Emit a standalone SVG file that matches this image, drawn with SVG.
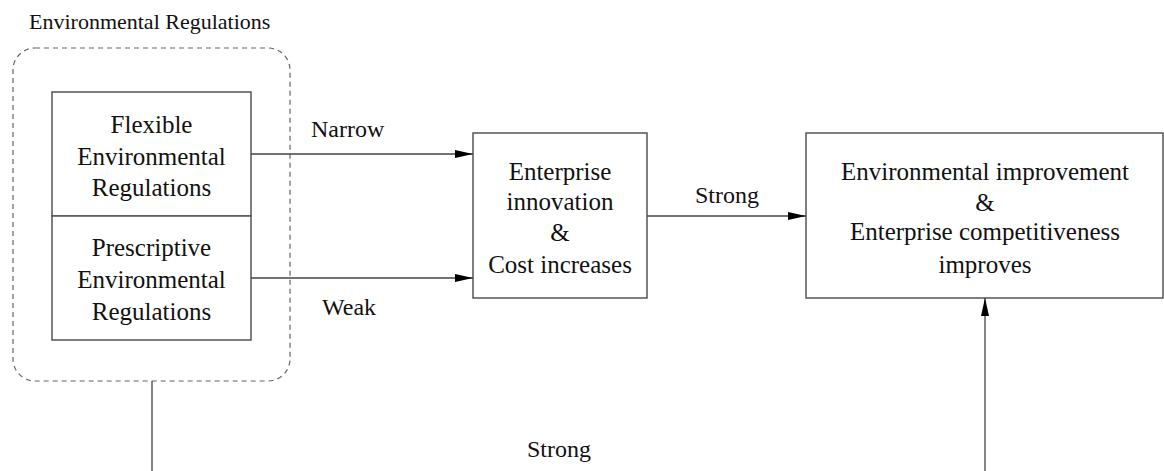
<svg xmlns="http://www.w3.org/2000/svg" width="1164" height="471" viewBox="0 0 1164 471">
<style>
.box{fill:#fff;stroke:#555;stroke-width:1.5}
.dash{fill:none;stroke:#666;stroke-width:1.2;stroke-dasharray:5 4}
.ln{fill:none;stroke:#444;stroke-width:1.3}
text{font-family:"Liberation Serif","Times New Roman",serif;fill:#111}
.t{font-size:25px;text-anchor:middle}
.lbl{font-size:24px}
</style>
<defs>
<marker id="ah" viewBox="0 0 18 10" refX="18" refY="5" markerWidth="18" markerHeight="10" markerUnits="userSpaceOnUse" orient="auto">
<path d="M0,1 L18,5 L0,9 z" fill="#000"/>
</marker>
</defs>
<rect width="1164" height="471" fill="#fff"/>
<g id="group-env">
<rect class="dash" x="13" y="48" width="277" height="333" rx="22"/>
<text x="29" y="29" style="font-size:22px">Environmental Regulations</text>
</g>
<g id="flexible">
<rect class="box" x="52" y="92" width="199" height="124"/>
<text class="t" x="151.5" y="133">Flexible</text>
<text class="t" x="151.5" y="165">Environmental</text>
<text class="t" x="151.5" y="196">Regulations</text>
</g>
<g id="prescriptive">
<rect class="box" x="52" y="216" width="199" height="124"/>
<text class="t" x="151.5" y="256">Prescriptive</text>
<text class="t" x="151.5" y="288">Environmental</text>
<text class="t" x="151.5" y="320">Regulations</text>
</g>
<g id="innovation">
<rect class="box" x="473" y="133" width="174" height="165"/>
<text class="t" x="560" y="180">Enterprise</text>
<text class="t" x="560" y="210">innovation</text>
<text class="t" x="560" y="241">&amp;</text>
<text class="t" x="560" y="273">Cost increases</text>
</g>
<g id="improvement">
<rect class="box" x="806" y="133" width="357" height="165"/>
<text class="t" x="985" y="180">Environmental improvement</text>
<text class="t" x="985" y="211">&amp;</text>
<text class="t" x="985" y="240">Enterprise competitiveness</text>
<text class="t" x="985" y="273">improves</text>
</g>
<g id="connectors">
<line class="ln" x1="251" y1="154" x2="473" y2="154" marker-end="url(#ah)"/>
<line class="ln" x1="251" y1="278" x2="473" y2="278" marker-end="url(#ah)"/>
<line class="ln" x1="647" y1="216" x2="806" y2="216" marker-end="url(#ah)"/>
<line class="ln" x1="152" y1="381" x2="152" y2="471"/>
<line class="ln" x1="985" y1="471" x2="985" y2="298" marker-end="url(#ah)"/>
<text class="lbl" x="311" y="137">Narrow</text>
<text class="lbl" x="322" y="315">Weak</text>
<text class="lbl" x="727" y="203" text-anchor="middle">Strong</text>
<text class="lbl" x="559" y="457" text-anchor="middle">Strong</text>
</g>
</svg>
